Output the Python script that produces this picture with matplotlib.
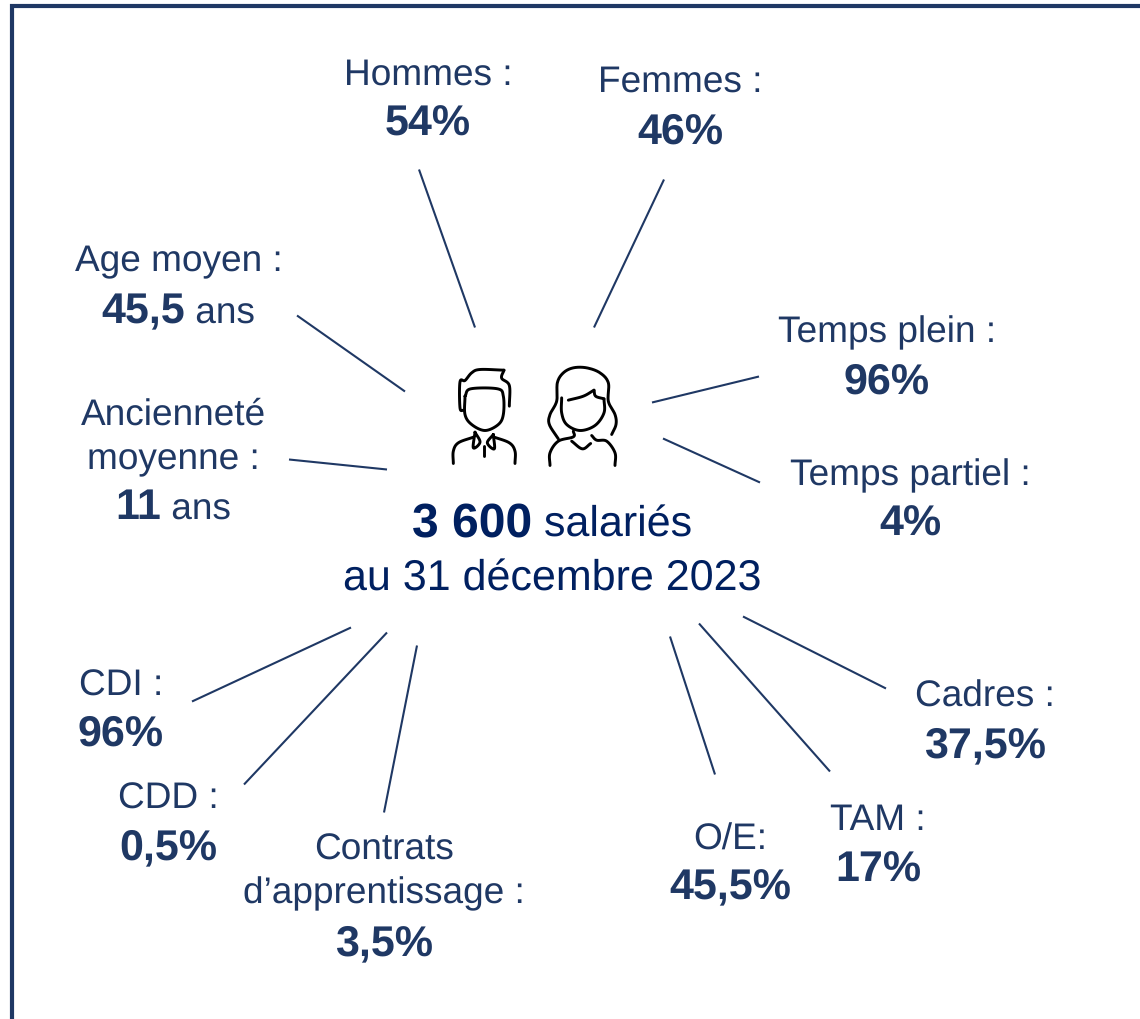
import numpy as np
import matplotlib
matplotlib.use("Agg")
import matplotlib.pyplot as plt

plt.rcParams['font.family'] = ['Liberation Sans', 'DejaVu Sans']
plt.rcParams['text.hinting'] = 'no_hinting'
plt.rcParams['text.hinting_factor'] = 1

NAVY = '#1f3864'
DARK = '#002060'

# label text, one list per line: (text, bold)
block_lines = [
    [[('Hommes :', False)], [('54%', True)]],
    [[('Femmes :', False)], [('46%', True)]],
    [[('Age moyen :', False)], [('45,5', True), (' ans', False)]],
    [[('Ancienneté', False)], [('moyenne :', False)], [('11', True), (' ans', False)]],
    [[('Temps plein :', False)], [('96%', True)]],
    [[('Temps partiel :', False)], [('4%', True)]],
    [[('CDI :', False)], [('96%', True)]],
    [[('CDD :', False)], [('0,5%', True)]],
    [[('Contrats', False)], [('d’apprentissage :', False)], [('3,5%', True)]],
    [[('O/E:', False)], [('45,5%', True)]],
    [[('TAM :', False)], [('17%', True)]],
    [[('Cadres :', False)], [('37,5%', True)]],
]
# centre x of each block, baseline y of each line
block_x = [428, 680, 178.5, 173, 887, 910, 121, 168, 384, 730, 878, 984.5]
block_y = [[84, 135], [91, 143], [271, 323], [424, 469, 519], [342, 393], [485, 535],
           [695, 745], [808, 859], [859, 903, 955], [849, 899], [830, 881], [706, 757]]

# leader lines from label to the centre
leader_x = [(419, 475), (664, 594), (297, 405), (289, 387), (759, 652), (760, 663),
            (192, 351), (244, 387), (384, 417), (715, 670), (830, 699), (886, 743)]
leader_y = [(170, 328), (180, 328), (316, 392), (460, 470), (377, 403), (483, 439),
            (702, 628), (785, 633), (813, 646), (775, 637), (772, 624), (689, 617)]

# icons, traced strokes (x, y) in px / 3 from an origin at (430, 350)
man_strokes = [
    [(105, 140), (122, 118), (203, 118), (220, 140), (220, 195), (205, 225), (165, 243),
     (125, 225), (105, 195), (105, 140)],
    [(238, 170), (238, 108), (215, 86), (222, 62)],
    [(222, 62), (150, 60), (125, 70), (105, 93), (90, 97), (90, 175), (100, 183)],
    [(70, 342), (70, 305), (85, 280), (130, 263)],
    [(255, 342), (255, 305), (238, 280), (190, 262)],
    [(135, 248), (130, 295), (150, 278), (135, 248)],
    [(190, 255), (193, 298), (172, 280), (190, 255)],
    [(162, 288), (162, 320)],
]
woman_strokes = [
    [(545, 255), (558, 225), (555, 195), (535, 155), (535, 100), (510, 70), (470, 55),
     (430, 55), (400, 70), (382, 100), (380, 155), (360, 195), (358, 225), (385, 268)],
    [(395, 145), (395, 190), (410, 225), (450, 243), (495, 228), (522, 190), (522, 148)],
    [(522, 148), (497, 140), (492, 122)],
    [(492, 122), (460, 140), (415, 152)],
    [(430, 245), (430, 262), (385, 275), (360, 310), (360, 348)],
    [(485, 258), (500, 272), (530, 275), (555, 310), (555, 348)],
    [(425, 275), (457, 298), (482, 282)],
]


def mixed_line(ax, xc, y, parts, size, color):
    # centre a line made of bold and regular pieces
    r = ax.figure.canvas.get_renderer()
    items = []
    widths = []
    for s, bold in parts:
        t = ax.text(0, y, s.replace(' ', '\u00a0'), fontsize=size[1 if bold else 0], color=color,
                    fontweight='bold' if bold else 'normal', va='baseline', ha='left')
        items.append(t)
        widths.append(t.get_window_extent(r).width)
    x = xc - sum(widths) / 2
    for t, w in zip(items, widths):
        t.set_x(x)
        x += w


def smooth(pts):
    # Catmull-Rom through the traced points
    p = np.array(pts, dtype=float)
    if len(p) < 3:
        return p
    p = np.vstack([2 * p[0] - p[1], p, 2 * p[-1] - p[-2]])
    out = []
    for i in range(1, len(p) - 2):
        for t in np.linspace(0, 1, 12):
            out.append(0.5 * (2 * p[i] + (p[i + 1] - p[i - 1]) * t
                              + (2 * p[i - 1] - 5 * p[i] + 4 * p[i + 1] - p[i + 2]) * t ** 2
                              + (3 * p[i] - p[i - 1] - 3 * p[i + 1] + p[i + 2]) * t ** 3))
    return np.array(out)


fig = plt.figure(figsize=(11.4, 10.2), dpi=100)
ax = fig.add_axes([0, 0, 1, 1])
ax.set_xlim(0, 1140)
ax.set_ylim(1019.5, -0.5)
ax.axis('off')
fig.canvas.draw()

# frame, only top and left show
ax.plot([12, 12, 1140], [1020, 6, 6], color=NAVY, lw=3.0, solid_joinstyle='miter')

for xs, ys in zip(leader_x, leader_y):
    ax.plot(xs, ys, color=NAVY, lw=1.5, solid_capstyle='butt')

for lines, xc, ys in zip(block_lines, block_x, block_y):
    for parts, y in zip(lines, ys):
        mixed_line(ax, xc, y, parts, (26.8, 31), NAVY)

mixed_line(ax, 552, 536.5, [('3 600', True), (' salariés', False)], (30.9, 34.4), DARK)
mixed_line(ax, 552, 590.5, [('au 31 décembre 2023', False)], (30.9, 34.4), DARK)

for stroke in man_strokes + woman_strokes:
    s = smooth(stroke)
    ax.plot(430 + s[:, 0] / 3, 350 + s[:, 1] / 3, color='black', lw=2.1,
            solid_capstyle='round', solid_joinstyle='round')

fig.savefig('out.png', dpi=100)
